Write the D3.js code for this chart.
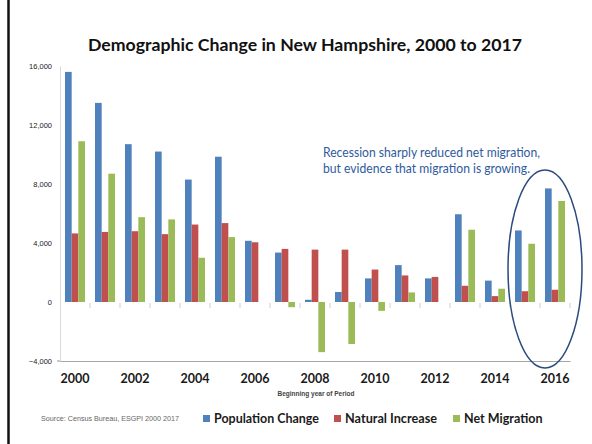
<!DOCTYPE html>
<html>
<head>
<meta charset="utf-8">
<script src="https://cdn.jsdelivr.net/npm/d3@7"></script>
<style>
  html, body { margin: 0; padding: 0; background: #fff; }
  svg { display: block; }
</style>
</head>
<body>
<script>
// ---- data ----
const years = ["2000","2001","2002","2003","2004","2005","2006","2007","2008","2009","2010","2011","2012","2013","2014","2015","2016"];
const populationChange = [15600,13500,10700,10200,8300,9850,4150,3350,150,680,1600,2500,1600,5950,1450,4850,7700];
const naturalIncrease  = [4650,4750,4800,4600,5250,5350,4050,3600,3550,3550,2200,1800,1700,1100,400,730,830];
const netMigration     = [10900,8700,5750,5600,3000,4400,0,-350,-3400,-2850,-600,650,0,4900,900,3950,6850];
const seriesNames = ["Population Change","Natural Increase","Net Migration"];
const yTickValues = [16000,12000,8000,4000,0,-4000];
const xLabelYears = ["2000","2002","2004","2006","2008","2010","2012","2014","2016"];
const titleText = "Demographic Change in New Hampshire, 2000 to 2017";
const xAxisTitle = "Beginning year of Period";
const sourceText = "Source: Census Bureau, ESGPI 2000 2017";
const noteLines = ["Recession sharply reduced net migration,", "but evidence that migration is growing."];

const colors = ["#4f81bd", "#c0504d", "#9bbb59"];
const W = 592, H = 444;

const svg = d3.select("body").append("svg").attr("width", W).attr("height", H);

// slide frame
svg.append("line").attr("x1", 8.5).attr("x2", 8.5).attr("y1", 0).attr("y2", H)
  .attr("stroke", "#111").attr("stroke-width", 2.5);

// scales
const x = d3.scaleBand().domain(years).range([60, 570]).paddingInner(1/3).paddingOuter(1/6);
const xs = d3.scaleBand().domain(d3.range(3)).range([0, x.bandwidth()]);
const y = d3.scaleLinear().domain([-4000, 16000]).range([361, 66]);

// title
svg.append("text").attr("x", 305).attr("y", 51).attr("text-anchor", "middle")
  .attr("font-family", "Lato, 'Open Sans', sans-serif").attr("font-weight", 700)
  .attr("font-size", 17).attr("fill", "#111")
  .attr("textLength", 434).attr("lengthAdjust", "spacingAndGlyphs")
  .text(titleText);

// y axis
const yAxis = svg.append("g").attr("transform", "translate(60,0)")
  .call(d3.axisLeft(y).tickValues(yTickValues).tickFormat(d3.format(",")).tickSize(0).tickPadding(8));
yAxis.select(".domain").attr("stroke", "#d9d9d9");
yAxis.selectAll("text").attr("font-family", "'Liberation Sans', Arial, sans-serif")
  .attr("font-size", 7.5).attr("fill", "#222");

// zero-line category ticks
const tickXs = d3.range(1, years.length + 1).map(i => x.range()[0] + i * x.step());
svg.append("g").selectAll("line").data(tickXs).join("line")
  .attr("x1", d => d).attr("x2", d => d)
  .attr("y1", y(0) + 1).attr("y2", y(0) + 6)
  .attr("stroke", "#d0d0d0").attr("stroke-width", 1);

// bars
const table = years.map((yr, i) => ({ yr, vals: [populationChange[i], naturalIncrease[i], netMigration[i]] }));
const groups = svg.append("g").selectAll("g").data(table).join("g")
  .attr("transform", d => `translate(${x(d.yr)},0)`);
groups.selectAll("rect").data(d => d.vals.map((v, k) => ({ v, k }))).join("rect")
  .attr("x", d => xs(d.k))
  .attr("width", xs.bandwidth())
  .attr("y", d => y(Math.max(0, d.v)))
  .attr("height", d => Math.abs(y(d.v) - y(0)))
  .attr("fill", d => colors[d.k]);

// x axis (line at bottom)
const xAxis = svg.append("g").attr("transform", `translate(0,${y(-4000)})`)
  .call(d3.axisBottom(x).tickValues(xLabelYears).tickSize(0).tickPadding(13.5));
xAxis.select(".domain").attr("stroke", "#a6a6a6").attr("stroke-width", 1.2);
xAxis.selectAll("text").attr("font-family", "Lato, 'Open Sans', sans-serif")
  .attr("font-weight", 700).attr("font-size", 12.5).attr("fill", "#1a1a1a");
svg.append("line").attr("x1", 57).attr("x2", 60).attr("y1", y(-4000)).attr("y2", y(-4000))
  .attr("stroke", "#a6a6a6").attr("stroke-width", 1.2);

// x axis title
svg.append("text").attr("x", 316).attr("y", 396).attr("text-anchor", "middle")
  .attr("font-family", "'Liberation Sans', Arial, sans-serif").attr("font-weight", 700)
  .attr("font-size", 6.5).attr("fill", "#444")
  .text(xAxisTitle);

// source
svg.append("text").attr("x", 41).attr("y", 421)
  .attr("font-family", "'Liberation Sans', Arial, sans-serif")
  .attr("font-size", 7).attr("fill", "#666")
  .attr("textLength", 138).attr("lengthAdjust", "spacingAndGlyphs")
  .text(sourceText);

// legend
const legendX = [203, 334, 453];
const legendW = [105, 92, 78.5];
const lg = svg.append("g").selectAll("g").data(seriesNames).join("g")
  .attr("transform", (d, i) => `translate(${legendX[i]},0)`);
lg.append("rect").attr("x", 0).attr("y", 415).attr("width", 7).attr("height", 7)
  .attr("fill", (d, i) => colors[i]);
lg.append("text").attr("x", 11).attr("y", 423)
  .attr("font-family", "Lato, 'Open Sans', sans-serif").attr("font-weight", 700)
  .attr("font-size", 13.5).attr("fill", "#1a1a1a")
  .attr("textLength", (d, i) => legendW[i]).attr("lengthAdjust", "spacingAndGlyphs")
  .text(d => d);

// annotation
svg.append("g").selectAll("text").data(noteLines).join("text")
  .attr("x", 323).attr("y", (d, i) => 157 + i * 15.5)
  .attr("font-family", "Lato, 'Open Sans', sans-serif")
  .attr("font-size", 12.5).attr("fill", "#2f5a9e")
  .attr("textLength", (d, i) => i === 0 ? 217 : 207).attr("lengthAdjust", "spacingAndGlyphs")
  .text(d => d);

// ellipse around the latest years
svg.append("ellipse").attr("cx", 545).attr("cy", 269).attr("rx", 37).attr("ry", 99)
  .attr("fill", "none").attr("stroke", "#2b4a7e").attr("stroke-width", 1.5);
</script>
</body>
</html>
